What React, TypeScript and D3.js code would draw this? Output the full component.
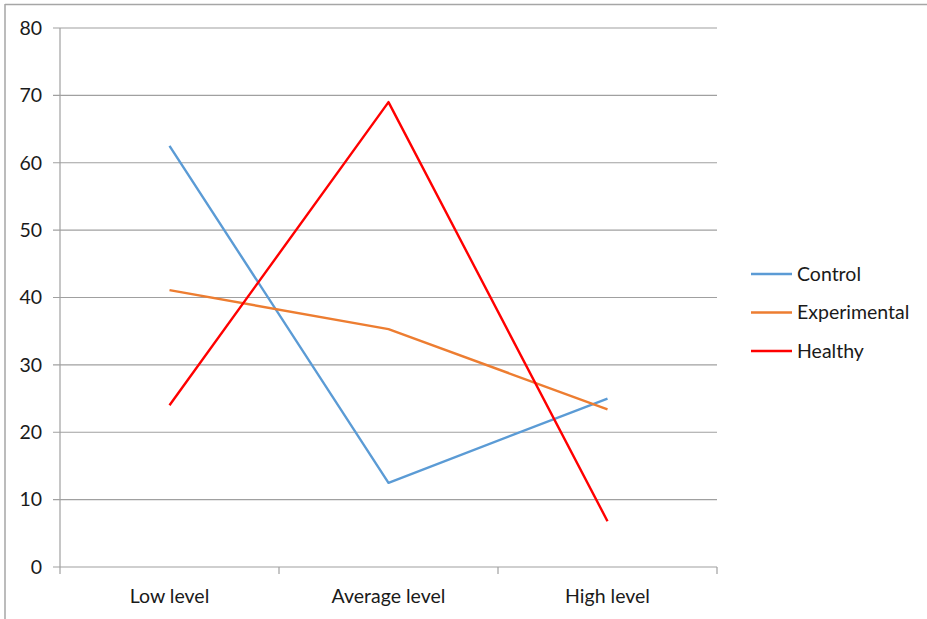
import * as d3 from "d3";

const categories = ["Low level", "Average level", "High level"];
const control = [62.5, 12.5, 25];
const experimental = [41.1, 35.3, 23.4];
const healthy = [24, 69, 6.8];
const yTicks = [0, 10, 20, 30, 40, 50, 60, 70, 80];

const series = [
  { name: "Control", values: control, color: "#5b9bd5" },
  { name: "Experimental", values: experimental, color: "#ed7d31" },
  { name: "Healthy", values: healthy, color: "#ff0000" },
];

const W = 927;
const H = 619;
const m = { left: 60, right: 210, top: 28, bottom: 52 };
const font = "Lato, 'Open Sans', sans-serif";
const fs = 19.5;

export default function App() {
  const x = d3
    .scaleBand<string>()
    .domain(categories)
    .range([m.left, W - m.right]);
  const y = d3
    .scaleLinear()
    .domain([0, 80])
    .range([H - m.bottom, m.top]);
  const cx = (c: string) => (x(c) ?? 0) + x.bandwidth() / 2;
  const line = d3
    .line<number>()
    .x((_, i) => cx(categories[i]))
    .y((d) => y(d));

  const x0 = m.left;
  const x1 = W - m.right;
  const yb = y(0);
  const edges = [...categories.map((c) => x(c) ?? 0), x1];

  return (
    <svg
      width={W}
      height={H}
      style={{ position: "absolute", left: 0, top: 0, background: "#fff" }}
      fontFamily={font}
    >
      {/* outer frame, top and left only visible */}
      <line x1={5} x2={W} y1={4.5} y2={4.5} stroke="#a6a6a6" strokeWidth={1.5} />
      <line x1={5} x2={5} y1={4} y2={H} stroke="#a6a6a6" strokeWidth={1.5} />

      {yTicks.map((t) => (
        <g key={t}>
          <line x1={x0 - 7} x2={x1} y1={y(t)} y2={y(t)} stroke="#a0a0a0" strokeWidth={1.2} />
          <text
            x={42}
            y={y(t)}
            dy="0.35em"
            textAnchor="end"
            fontSize={fs}
            fill="#1a1a1a"
          >
            {t}
          </text>
        </g>
      ))}
      <line x1={x0} x2={x0} y1={m.top} y2={yb} stroke="#a0a0a0" strokeWidth={1.2} />
      {edges.map((e, i) => (
        <line key={i} x1={e} x2={e} y1={yb} y2={yb + 7} stroke="#a0a0a0" strokeWidth={1.2} />
      ))}
      {categories.map((c) => (
        <text key={c} x={cx(c)} y={yb + 36} textAnchor="middle" fontSize={fs} fill="#1a1a1a">
          {c}
        </text>
      ))}

      {series.map((s) => (
        <path
          key={s.name}
          d={line(s.values) ?? ""}
          fill="none"
          stroke={s.color}
          strokeWidth={2.4}
          strokeLinejoin="round"
        />
      ))}

      {series.map((s, i) => {
        const ly = 274 + i * 38.5;
        return (
          <g key={s.name}>
            <line x1={751} x2={792} y1={ly} y2={ly} stroke={s.color} strokeWidth={2.4} />
            <text x={797} y={ly} dy="0.35em" fontSize={fs} fill="#1a1a1a">
              {s.name}
            </text>
          </g>
        );
      })}
    </svg>
  );
}
